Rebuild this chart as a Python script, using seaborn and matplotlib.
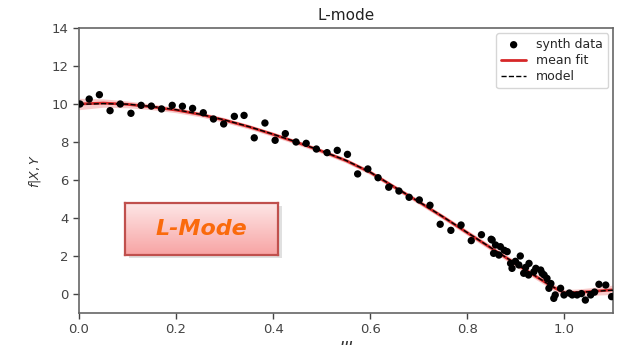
import numpy as np
import pandas as pd
import matplotlib
matplotlib.use("Agg")
import matplotlib.pyplot as plt
import seaborn as sns

# synthetic observations
synth_x = [0.002, 0.021, 0.042, 0.064, 0.085, 0.107, 0.128, 0.149, 0.170, 0.192,
           0.213, 0.234, 0.256, 0.277, 0.298, 0.320, 0.340, 0.361, 0.383, 0.404,
           0.425, 0.447, 0.468, 0.489, 0.511, 0.532, 0.553, 0.574, 0.595, 0.616,
           0.638, 0.659, 0.680, 0.701, 0.723, 0.744, 0.766, 0.787, 0.808, 0.829,
           0.849, 0.851, 0.854, 0.858, 0.865, 0.868, 0.876, 0.882, 0.889, 0.892,
           0.899, 0.906, 0.909, 0.916, 0.920, 0.926, 0.927, 0.937, 0.941, 0.951,
           0.954, 0.958, 0.964, 0.968, 0.972, 0.978, 0.981, 0.992, 0.999, 1.010,
           1.016, 1.026, 1.035, 1.043, 1.054, 1.062, 1.071, 1.085, 1.097]
synth_y = [10.00, 10.26, 10.49, 9.65, 10.00, 9.51, 9.93, 9.89, 9.74, 9.93,
           9.88, 9.77, 9.54, 9.21, 8.95, 9.35, 9.40, 8.22, 9.00, 8.09,
           8.44, 8.00, 7.93, 7.63, 7.44, 7.56, 7.35, 6.32, 6.58, 6.12,
           5.62, 5.42, 5.09, 4.95, 4.67, 3.67, 3.35, 3.63, 2.81, 3.12,
           2.88, 2.84, 2.14, 2.58, 2.05, 2.49, 2.30, 2.23, 1.61, 1.35,
           1.72, 1.53, 2.00, 1.09, 1.40, 1.00, 1.61, 1.17, 1.35, 1.26,
           1.09, 1.00, 0.82, 0.30, 0.55, -0.23, -0.05, 0.30, -0.05, 0.05,
           -0.05, -0.05, 0.02, -0.32, -0.05, 0.10, 0.51, 0.47, -0.14]

# fitted profile and its uncertainty band
fit_x = [0.00, 0.05, 0.10, 0.15, 0.20, 0.25, 0.30, 0.35, 0.40, 0.45, 0.50,
         0.55, 0.60, 0.65, 0.70, 0.75, 0.80, 0.85, 0.90, 0.95, 0.975, 1.00,
         1.025, 1.05, 1.075, 1.10]
fit_mean = [10.00, 10.05, 9.98, 9.85, 9.68, 9.45, 9.15, 8.80, 8.40, 7.97, 7.52,
            7.02, 6.40, 5.62, 4.85, 4.05, 3.22, 2.40, 1.58, 0.78, 0.38, 0.06,
            0.08, 0.12, 0.17, 0.22]
fit_half = [0.30, 0.22, 0.18, 0.15, 0.14, 0.13, 0.13, 0.12, 0.12, 0.12, 0.12,
            0.12, 0.12, 0.12, 0.13, 0.13, 0.14, 0.15, 0.15, 0.16, 0.17, 0.18,
            0.18, 0.20, 0.22, 0.25]
model_y = [9.98, 10.02, 9.99, 9.87, 9.70, 9.46, 9.16, 8.81, 8.41, 7.98, 7.53,
           7.03, 6.41, 5.63, 4.86, 4.06, 3.23, 2.41, 1.59, 0.79, 0.39, 0.07,
           0.08, 0.12, 0.16, 0.20]

sns.set_style("ticks")
plt.rcParams["font.family"] = ["DejaVu Sans"]
plt.rcParams["mathtext.fontset"] = "dejavusans"

fig = plt.figure(figsize=(6.24, 3.45), dpi=100)
ax = fig.add_axes([0.1266, 0.0928, 0.8558, 0.826])

data = pd.DataFrame({"x": synth_x, "y": synth_y})
fit = pd.DataFrame({"x": fit_x, "mean": fit_mean, "model": model_y})
lower = np.array(fit_mean) - np.array(fit_half)
upper = np.array(fit_mean) + np.array(fit_half)

ax.fill_between(fit_x, lower, upper, color="#f4a0a0", alpha=0.55, lw=0, zorder=1)
sns.scatterplot(data=data, x="x", y="y", ax=ax, color="black", s=28,
                edgecolor="none", label="synth data", zorder=3)
sns.lineplot(data=fit, x="x", y="mean", ax=ax, color="#d62728", lw=2.0,
             label="mean fit", zorder=2)
sns.lineplot(data=fit, x="x", y="model", ax=ax, color="black", lw=1.0,
             linestyle="--", label="model", zorder=4)

ax.set_xlim(0, 1.1)
ax.set_ylim(-1, 14)
ax.set_xticks([0.0, 0.2, 0.4, 0.6, 0.8, 1.0])
ax.set_yticks([0, 2, 4, 6, 8, 10, 12, 14])
ax.set_title("L-mode", fontsize=11, color="#222222", pad=6)
ax.set_xlabel(r"$\psi$", fontsize=13, color="#333333", labelpad=2)
ax.set_ylabel(r"$f|X,Y$", fontsize=9, color="#333333", labelpad=6)
ax.tick_params(labelsize=9.5, colors="#444444", length=4, width=1)
for side in ["top", "right", "left", "bottom"]:
    ax.spines[side].set_visible(True)
    ax.spines[side].set_color("#666666")
    ax.spines[side].set_linewidth(1.2)

leg = ax.legend(loc="upper right", fontsize=9, frameon=True, handlelength=2.0,
                borderpad=0.4, labelspacing=0.25, borderaxespad=0.4)
leg.get_frame().set_edgecolor("#cccccc")

# "L-Mode" callout: drop shadow, gradient fill, border and label
box = [0.2003, 0.2609, 0.2452, 0.1507]
shadow = fig.add_axes([box[0] + 0.006, box[1] - 0.010, box[2], box[3]])
shadow.set_facecolor("#bbbbbb")
shadow.patch.set_alpha(0.45)
shadow.set_xticks([]); shadow.set_yticks([])
for s in shadow.spines.values():
    s.set_visible(False)

callout = fig.add_axes(box)
grad = np.linspace(0, 1, 64).reshape(-1, 1)
cmap = matplotlib.colors.LinearSegmentedColormap.from_list("pinkfade", ["#fde6e6", "#f8a4a4"])
callout.imshow(grad, aspect="auto", cmap=cmap, extent=[0, 1, 0, 1], origin="upper")
callout.set_xlim(0, 1); callout.set_ylim(0, 1)
callout.set_xticks([]); callout.set_yticks([])
for s in callout.spines.values():
    s.set_color("#c0504d")
    s.set_linewidth(1.6)
callout.text(0.5, 0.5, "L-Mode", ha="center", va="center", fontsize=16,
             fontweight="bold", fontstyle="italic", color="#fa6a0c")

fig.savefig("out.png", dpi=100)
